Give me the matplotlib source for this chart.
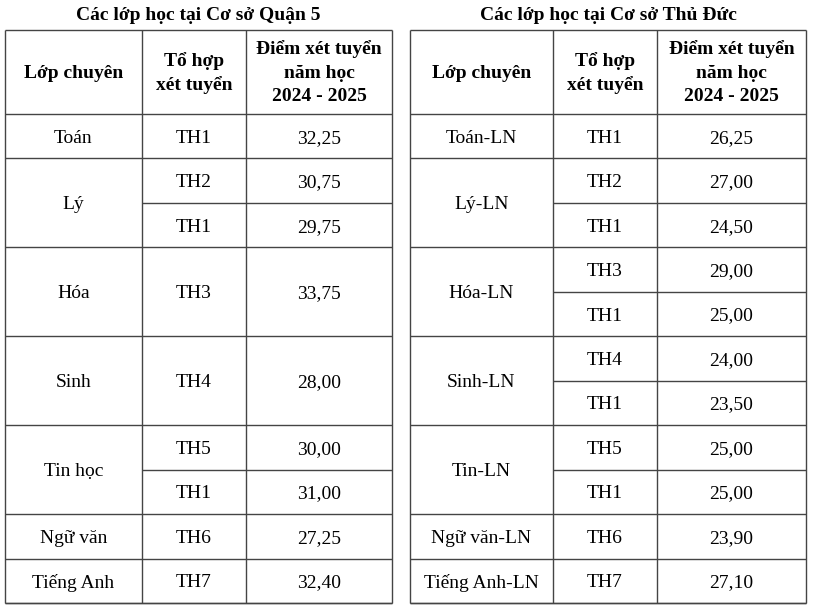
import matplotlib
matplotlib.use("Agg")
import matplotlib.pyplot as plt

titles = ["Các lớp học tại Cơ sở Quận 5", "Các lớp học tại Cơ sở Thủ Đức"]
headers = ["Lớp chuyên", "Tổ hợp\nxét tuyển", "Điểm xét tuyển\nnăm học\n2024 - 2025"]

left_classes = ["Toán", "Lý", "Hóa", "Sinh", "Tin học", "Ngữ văn", "Tiếng Anh"]
left_spans = [1, 2, 2, 2, 2, 1, 1]
left_combos = [["TH1"], ["TH2", "TH1"], ["TH3"], ["TH4"], ["TH5", "TH1"], ["TH6"], ["TH7"]]
left_scores = [["32,25"], ["30,75", "29,75"], ["33,75"], ["28,00"], ["30,00", "31,00"], ["27,25"], ["32,40"]]

right_classes = ["Toán-LN", "Lý-LN", "Hóa-LN", "Sinh-LN", "Tin-LN", "Ngữ văn-LN", "Tiếng Anh-LN"]
right_spans = [1, 2, 2, 2, 2, 1, 1]
right_combos = [["TH1"], ["TH2", "TH1"], ["TH3", "TH1"], ["TH4", "TH1"], ["TH5", "TH1"], ["TH6"], ["TH7"]]
right_scores = [["26,25"], ["27,00", "24,50"], ["29,00", "25,00"], ["24,00", "23,50"], ["25,00", "25,00"], ["23,90"], ["27,10"]]

fig = plt.figure(figsize=(8.2, 6.1), dpi=100)
ax = fig.add_axes([0, 0, 1, 1])
ax.set_xlim(0, 820)
ax.set_ylim(610, 0)
ax.axis("off")

FONT = "Liberation Serif"
FS = 14
LC = "#444444"
top, hbot, bot = 30, 114, 603
rh = (bot - hbot) / 11

def line(x0, y0, x1, y1):
    ax.plot([x0, x1], [y0, y1], color=LC, lw=1.0, solid_capstyle="butt")

def txt(x, y, s, **kw):
    ax.text(x, y, s, ha="center", va="center_baseline", fontsize=FS, family=FONT, **kw)

def table(cols, title, classes, spans, combos, scores):
    x0, x3 = cols[0], cols[-1]
    txt((x0 + x3) / 2, 13, title, fontweight="bold")
    for y in (top, hbot, bot):
        line(x0, y, x3, y)
    for x in cols:
        line(x, top, x, bot)
    for i, h in enumerate(headers):
        ax.text((cols[i] + cols[i + 1]) / 2, (top + hbot) / 2 + 1, h, ha="center", va="center",
                fontsize=FS, fontweight="bold", family=FONT, linespacing=1.5)
    r = 0
    for cls, sp, cb, sc in zip(classes, spans, combos, scores):
        ya = hbot + r * rh
        yb = ya + sp * rh
        line(x0, yb, x3, yb)
        txt((cols[0] + cols[1]) / 2, (ya + yb) / 2, cls)
        n = len(cb)
        sub = (yb - ya) / n
        for k in range(n):
            yc = ya + sub * (k + 0.5)
            txt((cols[1] + cols[2]) / 2, yc, cb[k])
            txt((cols[2] + cols[3]) / 2, yc, sc[k])
            if k > 0:
                line(cols[1], ya + sub * k, x3, ya + sub * k)
        r += sp

table([5, 142, 246, 392], titles[0], left_classes, left_spans, left_combos, left_scores)
table([410, 553, 657, 806], titles[1], right_classes, right_spans, right_combos, right_scores)

fig.savefig("out.png", dpi=100, facecolor="white")
